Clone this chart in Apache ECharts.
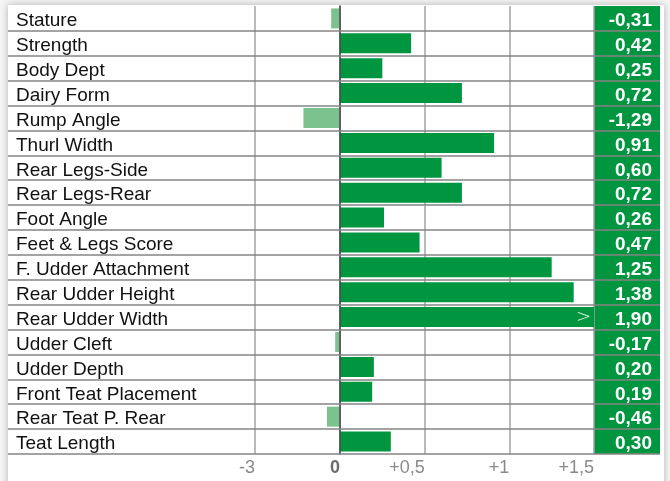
<!DOCTYPE html>
<html><head><meta charset="utf-8">
<script src="https://cdn.jsdelivr.net/npm/echarts@6/dist/echarts.min.js"></script>
<style>
html,body{margin:0;padding:0;background:#fff;}
#wrap{position:relative;width:670px;height:481px;overflow:hidden;background:#f4f4f4;}
#panel{position:absolute;left:8px;top:5px;width:656px;height:500px;background:#fff;box-shadow:0 0 7px rgba(0,0,0,0.28);}
#chart{position:absolute;left:0;top:0;width:670px;height:481px;}
</style></head><body>
<div id="wrap"><div id="panel"></div><div id="chart"></div></div>
<script>
const categories = ['Stature','Strength','Body Dept','Dairy Form','Rump Angle','Thurl Width','Rear Legs-Side','Rear Legs-Rear','Foot Angle','Feet & Legs Score','F. Udder Attachment','Rear Udder Height','Rear Udder Width','Udder Cleft','Udder Depth','Front Teat Placement','Rear Teat P. Rear','Teat Length'];
const values = [-0.31,0.42,0.25,0.72,-1.29,0.91,0.60,0.72,0.26,0.47,1.25,1.38,1.90,-0.17,0.20,0.19,-0.46,0.30];
const negAxis = {min:-3, max:0, interval:3};
const posAxis = {min:0, max:1.5, interval:0.5};

const FONT = '"Liberation Sans", Arial, Helvetica, sans-serif';
const GREEN = '#00953f';
const LIGHT = '#7cc28e';
const fmtVal = v => v.toFixed(2).replace('.', ',');
const fmtTick = v => v === 0 ? '{z|0}' : (v > 0 ? '+' : '') + String(v).replace('.', ',');

const gTop = 6, gBottom = 27;
const chart = echarts.init(document.getElementById('chart'), null, {renderer:'canvas'});
const tickLabel = {
  color:'#8a8a8a', fontSize:18, fontFamily:FONT, align:'right', margin:5,
  formatter: fmtTick,
  rich:{z:{fontWeight:'bold', color:'#6a6a6a', fontSize:18, fontFamily:FONT}}
};
const vSplit = {show:true, lineStyle:{color:'#a3a3a3', width:1.5}};

chart.setOption({
  animation:false,
  backgroundColor:'transparent',
  grid:[
    {left:8, right:10, top:gTop, bottom:gBottom},
    {left:255, width:85, top:gTop, bottom:gBottom},
    {left:340, width:254, top:gTop, bottom:gBottom},
    {left:594, width:66, top:gTop, bottom:gBottom, show:true, backgroundColor:GREEN, borderWidth:0}
  ],
  xAxis:[
    {gridIndex:0, type:'value', show:false},
    {gridIndex:1, type:'value', min:negAxis.min, max:negAxis.max, interval:negAxis.interval,
      axisLine:{show:false}, axisTick:{show:false}, splitLine:vSplit, axisLabel:tickLabel},
    {gridIndex:2, type:'value', min:posAxis.min, max:posAxis.max, interval:posAxis.interval,
      axisLine:{show:false}, axisTick:{show:false}, splitLine:vSplit,
      axisLabel:Object.assign({}, tickLabel, {showMinLabel:false})},
    {gridIndex:3, type:'value', show:false, min:0, max:1}
  ],
  yAxis:[
    {gridIndex:0, type:'category', inverse:true, data:categories, z:10,
      axisLine:{show:false}, axisTick:{show:false},
      splitLine:{show:true, showMinLine:false, lineStyle:{color:'#858585', width:1.5}},
      axisLabel:{align:'left', margin:-8, interval:0,
        formatter: v => '{c|' + v + '}',
        rich:{c:{color:'#111', fontSize:19, fontFamily:FONT, padding:[5,0,0,0]}}}},
    {gridIndex:1, type:'category', inverse:true, data:categories, show:false},
    {gridIndex:2, type:'category', inverse:true, data:categories,
      axisLine:{show:true, lineStyle:{color:'#4a4a4a', width:1.5}}, axisTick:{show:false}, axisLabel:{show:false}, z:9},
    {gridIndex:3, type:'category', inverse:true, data:values.map(fmtVal), position:'right',
      axisLine:{show:false}, axisTick:{show:false}, splitLine:{show:false},
      axisLabel:{inside:true, margin:8, interval:0,
        formatter: v => '{c|' + v + '}',
        rich:{c:{color:'#fff', fontWeight:'bold', fontSize:19, fontFamily:FONT, padding:[5,0,0,0]}}}}
  ],
  series:[
    {type:'bar', xAxisIndex:1, yAxisIndex:1, barWidth:20,
      data:values.map(v => v < 0 ? v : '-'), itemStyle:{color:LIGHT}},
    {type:'bar', xAxisIndex:2, yAxisIndex:2, barWidth:20, clip:true,
      data:values.map(v => v > 0 ? v : '-'), itemStyle:{color:GREEN},
      label:{show:true, position:'insideRight', distance:3, color:'#fff', fontSize:18, fontFamily:'"DejaVu Sans", sans-serif', fontWeight:'lighter',
        formatter: p => p.value > posAxis.max ? '>' : ''}}
  ]
});
</script>
</body></html>
